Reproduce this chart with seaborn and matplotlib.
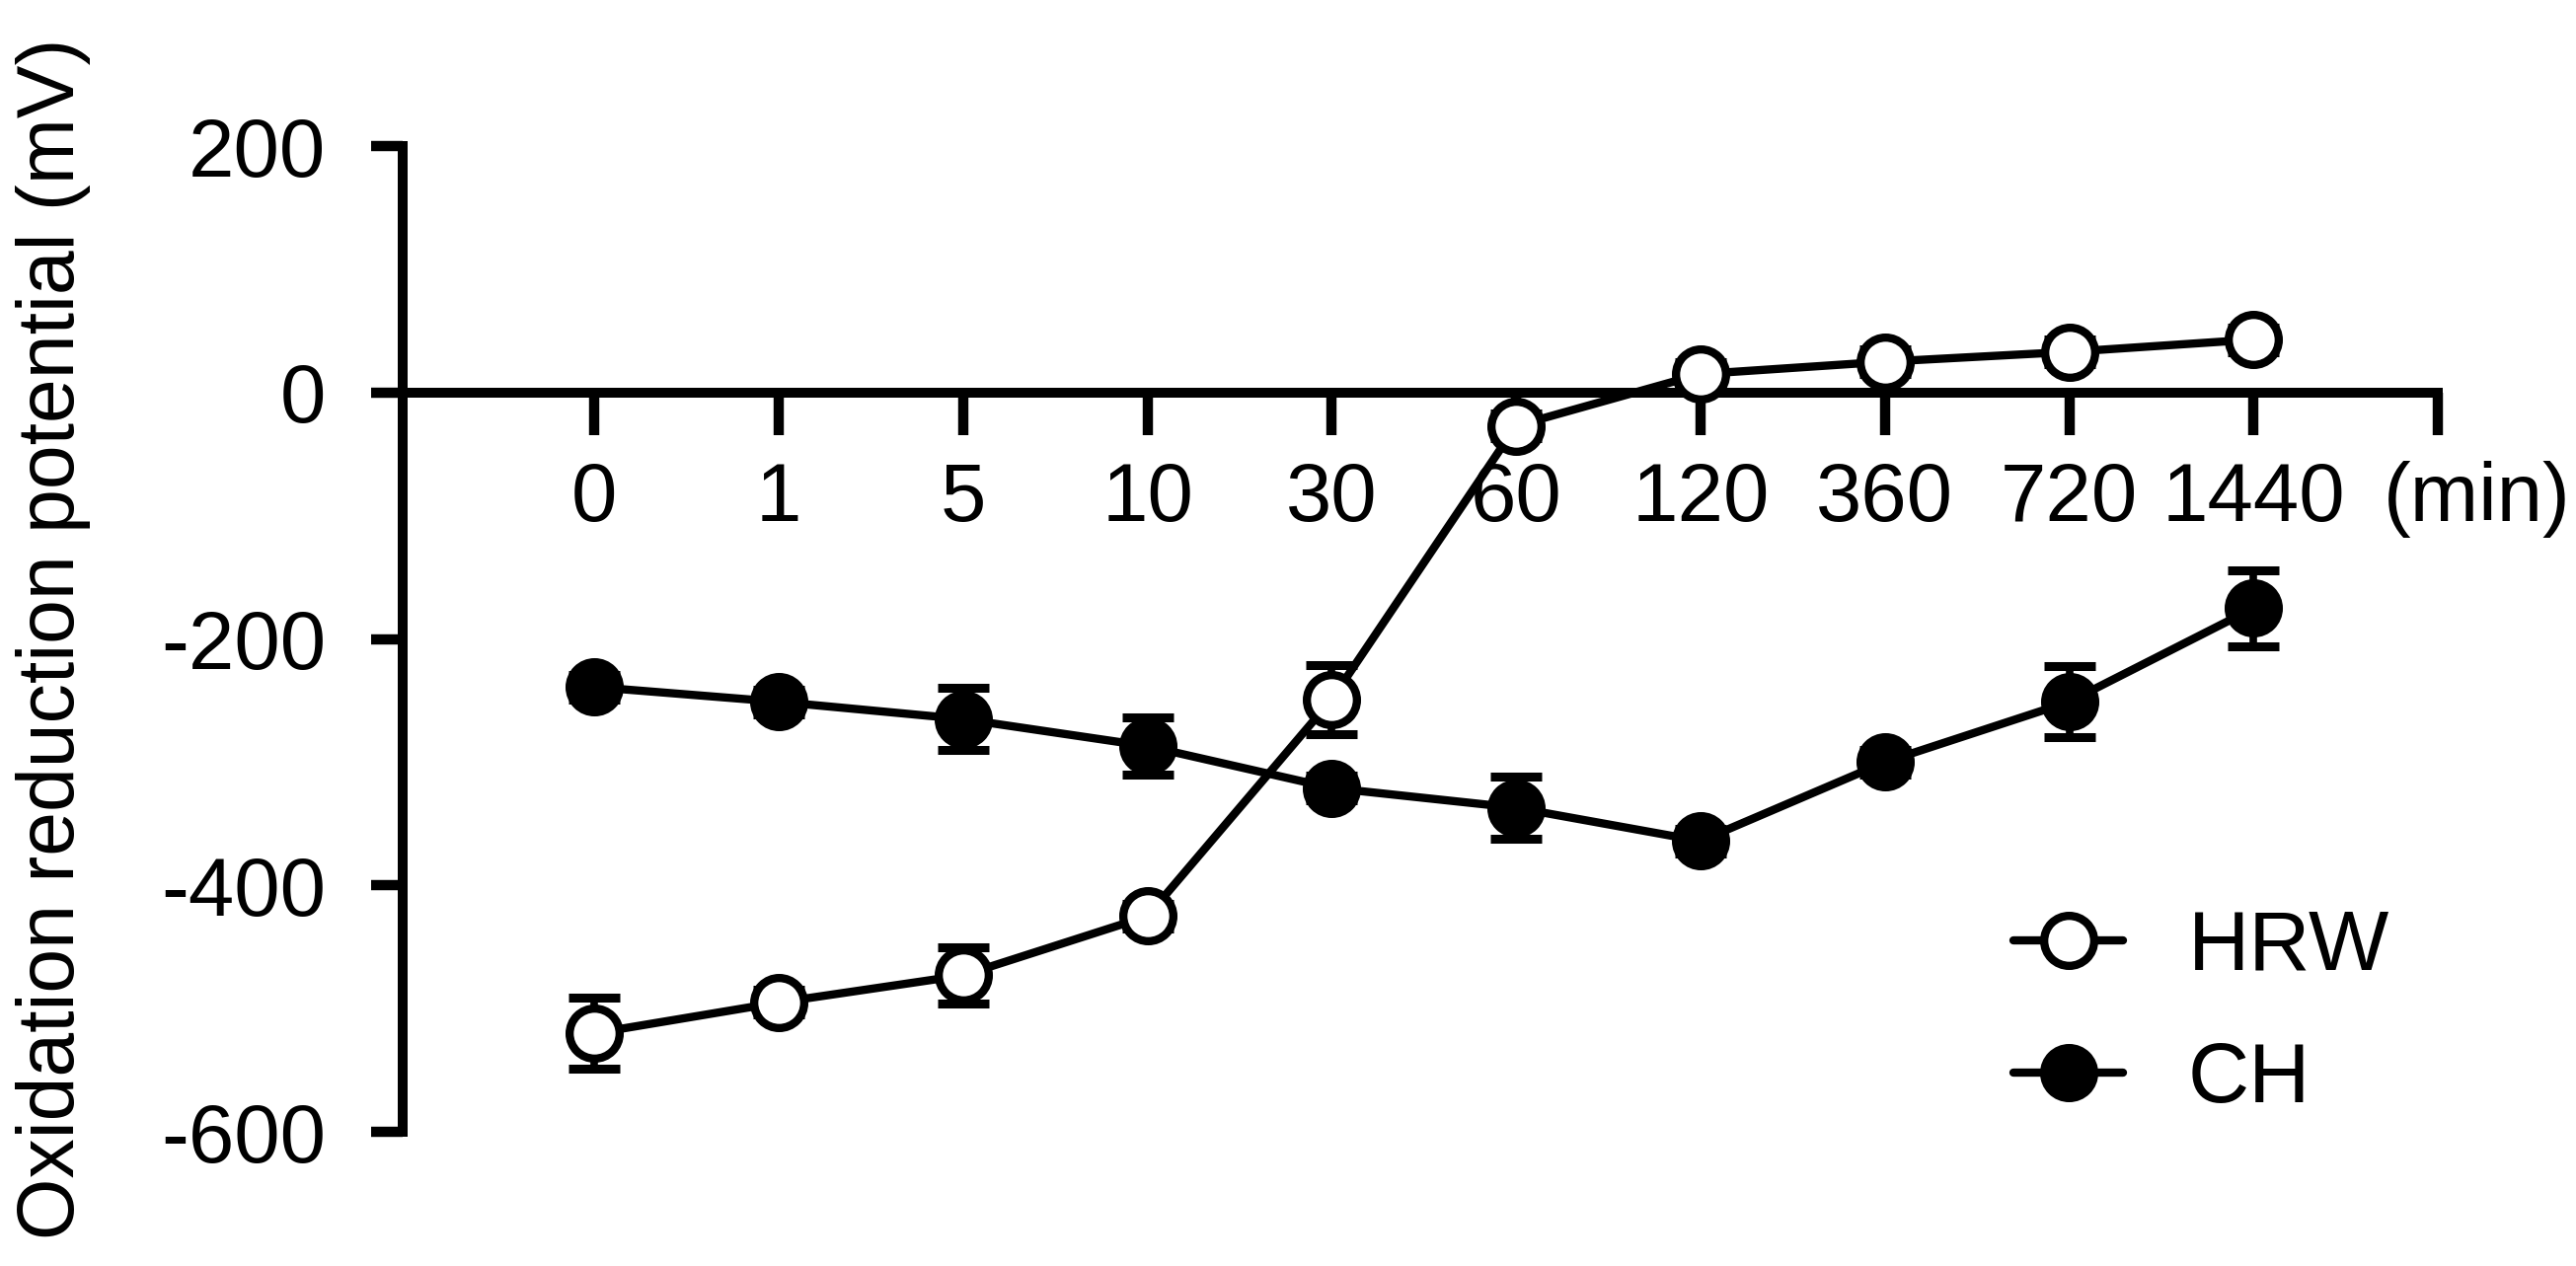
import numpy as np
import pandas as pd
import seaborn as sns
import matplotlib
matplotlib.use("Agg")
import matplotlib.pyplot as plt

# data (mean +- error, mV)
times = ['0', '1', '5', '10', '30', '60', '120', '360', '720', '1440']
hrw_mean = [-520, -495, -473, -425, -249, -27, 15, 25, 33, 43]
hrw_err = [29, 10, 23, 10, 28, 10, 10, 10, 10, 10]
ch_mean = [-239, -251, -265, -287, -321, -337, -364, -300, -251, -175]
ch_err = [10, 10, 25, 23, 10, 25, 10, 10, 29, 31]

sns.set_style("ticks")
plt.rcParams['font.family'] = ['Liberation Sans', 'DejaVu Sans']
plt.rcParams['axes.unicode_minus'] = False
plt.rcParams['axes.edgecolor'] = 'black'
plt.rcParams['text.color'] = 'black'
plt.rcParams['axes.labelcolor'] = 'black'
plt.rcParams['xtick.color'] = 'black'
plt.rcParams['ytick.color'] = 'black'

pos = np.arange(len(times))
df = pd.DataFrame({'pos': pos, 'HRW': hrw_mean, 'CH': ch_mean})

fig = plt.figure(figsize=(26.1, 12.83), dpi=100)
ax = fig.add_axes([0.1563, 0.106, 0.7901, 0.7786])

# error bars under the markers
for m, e in [(hrw_mean, hrw_err), (ch_mean, ch_err)]:
    ax.errorbar(pos, m, yerr=e, fmt='none', ecolor='black',
                elinewidth=5.5, capsize=18.5, capthick=6.5, zorder=3)

sns.lineplot(data=df, x='pos', y='HRW', ax=ax, color='black', marker='o',
             label='HRW', zorder=4)
sns.lineplot(data=df, x='pos', y='CH', ax=ax, color='black', marker='o',
             label='CH', zorder=4)

face = {'HRW': 'white', 'CH': 'black'}
for ln in ax.lines:
    if ln.get_label() in face:
        ln.set_linewidth(6)
        ln.set_markersize(36.5)
        ln.set_markeredgewidth(6)
        ln.set_markeredgecolor('black')
        ln.set_markerfacecolor(face[ln.get_label()])
        ln.set_zorder(4)

ax.set_xlim(-1.04, 10)
ax.set_ylim(-600, 200)
ax.set_xticks(range(len(times) + 1))
ax.set_xticklabels(times + [''])
ax.set_yticks([-600, -400, -200, 0, 200])

ax.spines['top'].set_visible(False)
ax.spines['right'].set_visible(False)
ax.spines['bottom'].set_position(('data', 0))
for s in ['left', 'bottom']:
    ax.spines[s].set_linewidth(7.2)
    ax.spines[s].set_zorder(2)

ax.tick_params(axis='x', bottom=True, direction='out', length=31, width=7.5,
               pad=19, labelsize=60)
ax.tick_params(axis='y', left=True, direction='out', length=23, width=7.5,
               pad=33, labelsize=60)

ax.annotate('(min)', xy=(10, 0), xycoords='data', xytext=(-40, -50),
            textcoords='offset points', ha='left', va='top', fontsize=60)

ax.set_xlabel('')
ax.set_ylabel('Oxidation reduction potential (mV)', fontsize=58)
ax.yaxis.set_label_coords(-0.153, 0.5)

ax.legend(loc='upper left', bbox_to_anchor=(0.7816, 0.2822),
          bbox_transform=fig.transFigure, frameon=False, fontsize=62,
          handlelength=1.29, handletextpad=0.76, labelspacing=0.63,
          borderpad=0, borderaxespad=0)

fig.savefig('out.png', dpi=100)
